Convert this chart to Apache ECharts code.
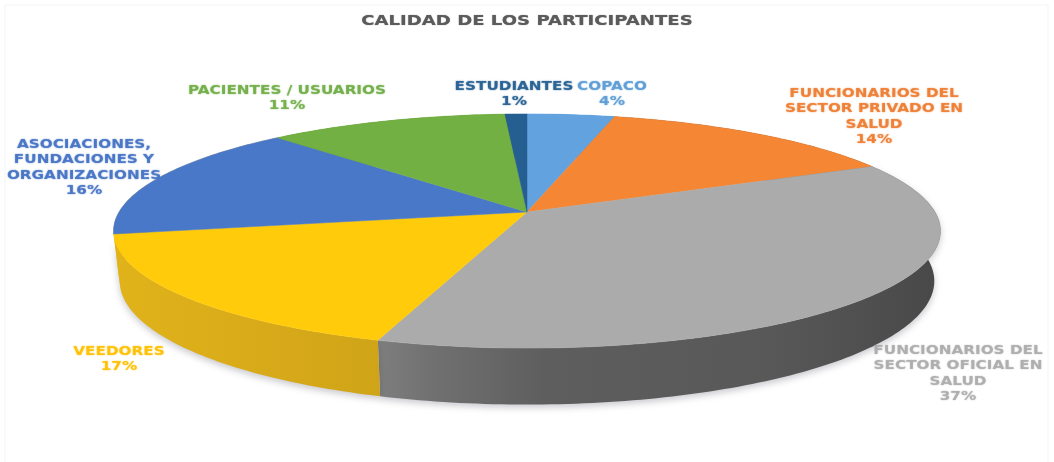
<!DOCTYPE html>
<html><head><meta charset="utf-8">
<style>html,body{margin:0;padding:0;background:#fff}#c{width:1054px;height:462px}</style>
<script src="https://cdn.jsdelivr.net/npm/echarts@6/dist/echarts.min.js"></script>
</head><body><div id="c"></div>
<script>
const chartTitle = 'CALIDAD DE LOS PARTICIPANTES';
const categories = ['COPACO','FUNCIONARIOS DEL\nSECTOR PRIVADO EN\nSALUD','FUNCIONARIOS DEL\nSECTOR OFICIAL EN\nSALUD','VEEDORES','ASOCIACIONES,\nFUNDACIONES Y\nORGANIZACIONES','PACIENTES / USUARIOS','ESTUDIANTES'];
const values = [4,14,37,17,16,11,1];

// styles and layout, separate from data
const topColors = ['#62A2DE','#F58634','#ABABAB','#FFCB0B','#4A78C8','#72B043','#255E91'];
const textColors = ['#5B9BD5','#ED7D31','#ABABAB','#FFC000','#4472C4','#70AD47','#255E91'];
const labelAnchors = [[612,79],[874,86],[958,343],[119,344],[84,137],[287,83],[514,79]];
const P = {cx:527, cy:212, A:408, B:114, p:0.1625, D:49, shrink:0.985};

const total = values.reduce((a,b)=>a+b,0);
const starts = values.map((v,i)=>values.slice(0,i).reduce((a,b)=>a+b,0)/total);

function project(f, lower){
  const t = f*2*Math.PI, X = Math.sin(t), Y = Math.cos(t), w = 1+P.p*Y;
  const s = lower ? P.shrink : 1;
  return [P.cx + s*P.A*X/w, P.cy - s*P.B*Y/w + (lower ? P.D/w : 0)];
}
function arc(f0,f1,lower){
  const n = Math.max(2,Math.ceil((f1-f0)*360)), pts=[];
  for(let i=0;i<=n;i++) pts.push(project(f0+(f1-f0)*i/n,lower));
  return pts;
}
const wallFill = [
  '#3F7CB5','#4A4A4A',
  {type:'linear',x:0,y:0,x2:1,y2:0,global:false,colorStops:[{offset:0,color:'#7E7E7E'},{offset:.1,color:'#707070'},{offset:.3,color:'#5E5E5E'},{offset:.7,color:'#585858'},{offset:1,color:'#484848'}]},
  {type:'linear',x:0,y:0,x2:1,y2:0,global:false,colorStops:[{offset:0,color:'#E0B31A'},{offset:.5,color:'#D9AB1A'},{offset:1,color:'#D0A418'}]},
  '#E0B31A','#55863A','#1D4A72'
];

const chart = echarts.init(document.getElementById('c'),null,{renderer:'canvas'});
const sliceData = categories.map((c,i)=>({name:c,value:[values[i],starts[i]]}));

chart.setOption({
  animation:false,
  backgroundColor:'#fff',
  tooltip:{show:false},
  graphic:[
    {type:'rect',silent:true,z:0,shape:{x:5,y:5,width:1043,height:470},style:{fill:null,stroke:'#F1F4F7',lineWidth:1}},
    {type:'text',silent:true,z:5,x:527,y:21,scaleX:1.34,
      style:{text:chartTitle,align:'center',verticalAlign:'middle',fill:'#595959',font:'bold 13.5px "DejaVu Sans"',opacity:.9,textShadowColor:'#595959',textShadowBlur:1}}
  ],
  series:[
    { type:'custom', coordinateSystem:'none', silent:true, z:2, data:sliceData,
      renderItem(params,api){
        const i = params.dataIndex, f0 = api.value(1), f1 = f0 + api.value(0)/total;
        const top = arc(f0,f1,false), low = arc(f0,f1,true).reverse();
        const soft = (i==2||i==3);
        return {type:'polygon',shape:{points:top.concat(low)},
          style:{fill:wallFill[i],stroke:null,shadowBlur:soft?7:0,shadowColor:soft?'rgba(60,60,80,.28)':'rgba(0,0,0,0)',shadowOffsetY:soft?3:0}};
      }
    },
    { type:'custom', coordinateSystem:'none', silent:true, z:3, data:sliceData,
      renderItem(params,api){
        const i = params.dataIndex, f0 = api.value(1), f1 = f0 + api.value(0)/total;
        const pts = [[P.cx,P.cy]].concat(arc(f0,f1,false));
        const a = labelAnchors[i];
        return {type:'group',children:[
          {type:'polygon',shape:{points:pts},style:{fill:topColors[i],stroke:topColors[i],lineWidth:.5}},
          {type:'text',z2:10,x:a[0],y:a[1],scaleX:1.27,style:{x:0,y:0,text:categories[i]+'\n'+Math.round(api.value(0))+'%',
            align:'center',verticalAlign:'top',fill:textColors[i],
            font:'bold 12px "DejaVu Sans"',lineHeight:15.5,opacity:.85,
            textShadowColor:textColors[i],textShadowBlur:1.5}}
        ]};
      }
    }
  ]
});
</script></body></html>
